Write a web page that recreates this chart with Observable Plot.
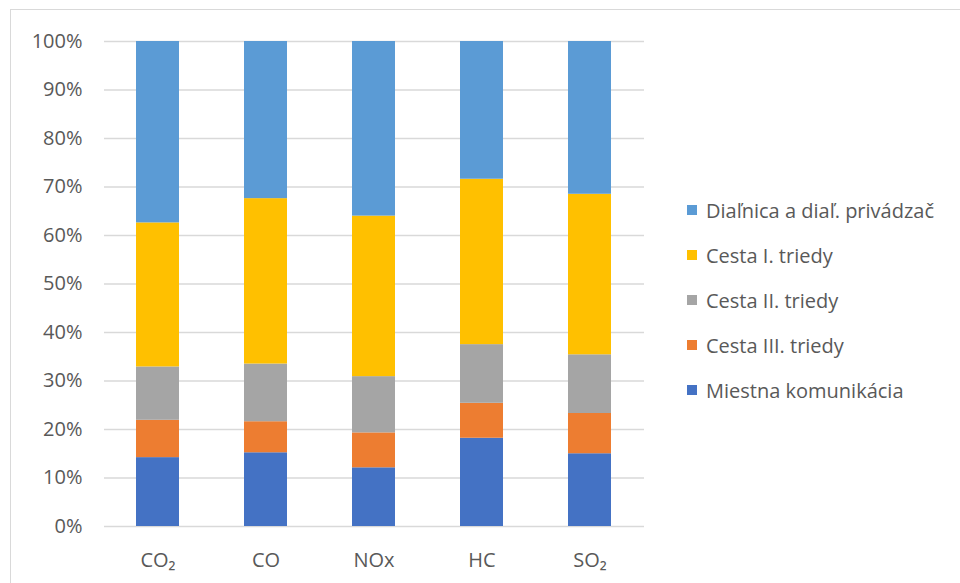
<!DOCTYPE html>
<html>
<head>
<meta charset="utf-8">
<script src="https://cdn.jsdelivr.net/npm/d3@7"></script>
<script src="https://cdn.jsdelivr.net/npm/@observablehq/plot@0.6"></script>
<style>
  html, body { margin: 0; padding: 0; background: #fff; }
  body { width: 960px; height: 583px; position: relative; overflow: hidden; font-family: "Open Sans", sans-serif; }
  #frame { position: absolute; left: 10px; top: 9px; width: 1000px; height: 1000px; border: 1.5px solid #d9d9d9; box-sizing: border-box; }
  #chart { position: absolute; left: 0; top: 0; }
  #legend { position: absolute; left: 687px; top: 0; }
  .item { position: absolute; left: 0; white-space: nowrap; display: flex; align-items: center; color: #595959; font-size: 20px; }
  .sw { width: 10px; height: 10px; margin-right: 9px; }
</style>
</head>
<body>
<div id="frame"></div>
<div id="chart"></div>
<div id="legend"></div>
<script>
const categories = ["CO₂", "CO", "NOx", "HC", "SO₂"];
const series = ["Miestna komunikácia", "Cesta III. triedy", "Cesta II. triedy", "Cesta I. triedy", "Diaľnica a diaľ. privádzač"];
const colors = ["#4472C4", "#ED7D31", "#A5A5A5", "#FFC000", "#5B9BD5"];
const miestna = [0.142, 0.152, 0.121, 0.182, 0.150];
const cestaIII = [0.077, 0.064, 0.072, 0.072, 0.083];
const cestaII = [0.110, 0.119, 0.116, 0.121, 0.121];
const cestaI = [0.297, 0.341, 0.331, 0.341, 0.331];
const dialnica = [0.374, 0.324, 0.360, 0.284, 0.315];
const yTicks = [0, 0.1, 0.2, 0.3, 0.4, 0.5, 0.6, 0.7, 0.8, 0.9, 1.0];

const valuesBySeries = [miestna, cestaIII, cestaII, cestaI, dialnica];
const data = [];
series.forEach((s, i) => categories.forEach((c, j) => data.push({cat: c, series: s, value: valuesBySeries[i][j]})));

const chart = Plot.plot({
  width: 960,
  height: 583,
  marginLeft: 104,
  marginRight: 316,
  marginTop: 41,
  marginBottom: 57,
  style: {fontFamily: "Open Sans, sans-serif", fontSize: "20px", color: "#595959", background: "transparent"},
  x: {domain: categories, paddingInner: 0.6, paddingOuter: 0.3, label: null},
  y: {domain: [0, 1], label: null},
  color: {domain: series, range: colors},
  marks: [
    Plot.gridY(yTicks, {stroke: "#d9d9d9", strokeOpacity: 1, strokeWidth: 1.3}),
    Plot.barY(data, {x: "cat", y: "value", fill: "series", order: series}),
    Plot.axisY({ticks: yTicks, tickFormat: d => Math.round(d * 100) + "%", tickSize: 0, tickPadding: 22, label: null, fill: "#595959"}),
    Plot.axisX({tickSize: 0, tickPadding: 26, label: null, fill: "#595959"})
  ]
});
document.getElementById("chart").appendChild(chart);

const legend = document.getElementById("legend");
const legendOrder = [4, 3, 2, 1, 0];
const rowY = [210, 255, 300, 345, 390];
legendOrder.forEach((idx, r) => {
  const item = document.createElement("div");
  item.className = "item";
  item.style.top = (rowY[r] - 14) + "px";
  item.style.height = "28px";
  const sw = document.createElement("span");
  sw.className = "sw";
  sw.style.background = colors[idx];
  const t = document.createElement("span");
  t.textContent = series[idx];
  item.appendChild(sw);
  item.appendChild(t);
  legend.appendChild(item);
});
</script>
</body>
</html>
